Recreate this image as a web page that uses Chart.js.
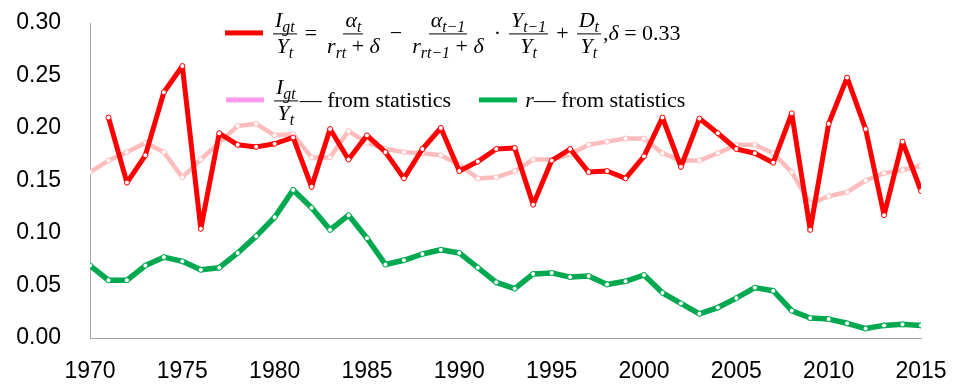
<!DOCTYPE html>
<html>
<head>
<meta charset="utf-8">
<script src="https://cdn.jsdelivr.net/npm/chart.js@4.4.1/dist/chart.umd.min.js"></script>
<style>
    body { margin: 0; background: #fff; }
    #wrap { position: relative; width: 957px; height: 385px; }
    #legend { position: absolute; left: 0; top: 0; font-family: "Liberation Serif", "DejaVu Serif", serif; font-size: 22px; color: #000; }
    .row { position: absolute; display: flex; align-items: center; white-space: nowrap; transform: translateY(-50%); }
    .swatch { display: inline-block; width: 38px; height: 5px; margin-right: 8px; }
    .frac { display: inline-flex; flex-direction: column; align-items: center; line-height: 1.05; margin: 0 2px; }
    .frac > span { padding: 0 2px; }
    .frac > span:first-child { border-bottom: 1px solid #000; padding-bottom: 2px; }
    .s { font-size: 0.72em; font-style: italic; position: relative; top: 0.3em; }
    .op { margin: 0 6px; }
</style>
</head>
<body>
<div id="wrap">
    <canvas id="chart" width="957" height="385"></canvas>
    <div id="legend">
        <div class="row" style="left:225px; top:33px;">
            <span class="swatch" style="background:#ff0000"></span>
            <span class="frac"><span><i>I</i><span class="s">gt</span></span><span><i>Y</i><span class="s">t</span></span></span>
            <span class="op">=</span>
            <span class="frac"><span><i>α</i><span class="s">t</span></span><span><i>r</i><span class="s">rt</span> + <i>δ</i></span></span>
            <span class="op">−</span>
            <span class="frac"><span><i>α</i><span class="s">t−1</span></span><span><i>r</i><span class="s">rt−1</span> + <i>δ</i></span></span>
            <span class="op">·</span>
            <span class="frac"><span><i>Y</i><span class="s">t−1</span></span><span><i>Y</i><span class="s">t</span></span></span>
            <span class="op">+</span>
            <span class="frac"><span><i>D</i><span class="s">t</span></span><span><i>Y</i><span class="s">t</span></span></span>
            <span>,<i>δ</i> = 0.33</span>
        </div>
        <div class="row" style="left:226px; top:100px;">
            <span class="swatch" style="background:#ff99ee"></span>
            <span class="frac"><span><i>I</i><span class="s">gt</span></span><span><i>Y</i><span class="s">t</span></span></span>
            <span>— from statistics</span>
            <span class="swatch" style="background:#00b050; margin-left:28px;"></span>
            <span><i>r</i>— from statistics</span>
        </div>
    </div>
</div>
<script>
const years = [];
for (let y = 1970; y <= 2015; y++) years.push(y);

// I_gt / Y_t from the model, delta = 0.33 (no value for 1970)
const modelShare = [
    null, 0.210, 0.148, 0.174, 0.234, 0.259, 0.104, 0.195, 0.184, 0.182,
    0.185, 0.191, 0.144, 0.199, 0.170, 0.193, 0.177, 0.152, 0.180, 0.200,
    0.159, 0.168, 0.180, 0.181, 0.127, 0.169, 0.180, 0.158, 0.159, 0.152,
    0.173, 0.210, 0.163, 0.209, 0.195, 0.180, 0.176, 0.167, 0.214, 0.103,
    0.204, 0.248, 0.199, 0.117, 0.187, 0.140
];

// I_gt / Y_t from statistics
const statShare = [
    0.158, 0.169, 0.177, 0.186, 0.177, 0.153, 0.170, 0.186, 0.202, 0.204,
    0.193, 0.194, 0.172, 0.172, 0.197, 0.186, 0.180, 0.177, 0.176, 0.174,
    0.165, 0.152, 0.153, 0.159, 0.170, 0.170, 0.175, 0.184, 0.187, 0.190,
    0.190, 0.176, 0.169, 0.169, 0.176, 0.184, 0.184, 0.176, 0.158, 0.128,
    0.135, 0.139, 0.150, 0.157, 0.160, 0.164
];

// r from statistics
const interestRate = [
    0.069, 0.055, 0.055, 0.069, 0.077, 0.073, 0.065, 0.067, 0.081, 0.097,
    0.115, 0.141, 0.124, 0.103, 0.117, 0.095, 0.070, 0.074, 0.080, 0.084,
    0.081, 0.067, 0.053, 0.047, 0.061, 0.062, 0.058, 0.059, 0.051, 0.054,
    0.060, 0.043, 0.033, 0.023, 0.029, 0.038, 0.048, 0.045, 0.026, 0.019,
    0.018, 0.014, 0.009, 0.012, 0.013, 0.012
];

const xTickYears = [1970, 1975, 1980, 1985, 1990, 1995, 2000, 2005, 2010, 2015];
const yTickValues = [0, 0.05, 0.10, 0.15, 0.20, 0.25, 0.30];

function toPoints(values) {
    return years.map((yr, i) => ({ x: yr, y: values[i] }));
}

function lineSet(label, values, color, width, order) {
    return {
        label: label,
        data: toPoints(values),
        borderColor: color,
        borderWidth: width,
        borderJoinStyle: 'round',
        borderCapStyle: 'round',
        pointRadius: 2.5,
        pointBackgroundColor: '#ffffff',
        pointBorderColor: color,
        pointBorderWidth: 1,
        tension: 0,
        spanGaps: false,
        order: order
    };
}

const axisFont = { family: '"Liberation Sans", Arial, sans-serif', size: 23 };

new Chart(document.getElementById('chart').getContext('2d'), {
    type: 'line',
    data: {
        datasets: [
            lineSet('model', modelShare, '#ff0000', 5, 1),
            lineSet('statistics', statShare, '#ffbcbc', 4.5, 2),
            lineSet('r', interestRate, '#00a84f', 5.5, 3)
        ]
    },
    options: {
        responsive: false,
        animation: false,
        layout: { padding: { top: 23, right: 36, left: 0, bottom: 0 } },
        plugins: {
            legend: { display: false },
            tooltip: { enabled: false }
        },
        scales: {
            x: {
                type: 'linear',
                min: 1970,
                max: 2015,
                afterBuildTicks: scale => { scale.ticks = xTickYears.map(v => ({ value: v })); },
                afterFit: scale => { scale.height = 47; },
                // tick marks are hidden, the tick length only spaces the labels
                grid: { display: false, drawTicks: true, tickLength: 20 },
                border: { color: '#a6a6a6', width: 1 },
                ticks: {
                    font: axisFont,
                    color: '#000',
                    padding: 0,
                    maxRotation: 0,
                    autoSkip: false,
                    callback: v => String(v)
                }
            },
            y: {
                min: 0,
                max: 0.3,
                afterBuildTicks: scale => { scale.ticks = yTickValues.map(v => ({ value: v })); },
                afterFit: scale => { scale.width = 90; },
                grid: { display: false, drawTicks: true, tickLength: 29 },
                border: { color: '#a6a6a6', width: 1 },
                ticks: {
                    font: axisFont,
                    color: '#000',
                    padding: 0,
                    callback: v => v.toFixed(2)
                }
            }
        }
    }
});
</script>
</body>
</html>
